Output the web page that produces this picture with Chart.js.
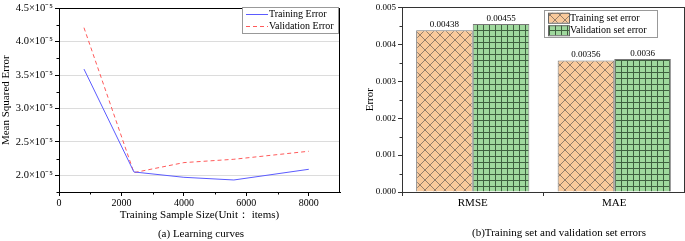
<!DOCTYPE html>
<html>
<head>
<meta charset="utf-8">
<script src="https://cdn.jsdelivr.net/npm/chart.js@4"></script>
<style>
  body { margin: 0; background: #fff; width: 685px; height: 241px; position: relative; overflow: hidden; }
  canvas { position: absolute; top: 0; }
  #lc { left: 0; }
  #bc { left: 345px; }
  .cap { position: absolute; top: 227px; font: 11px "Liberation Serif", serif; color: #000; white-space: nowrap; transform: translateX(-50%); }
</style>
</head>
<body>
<canvas id="lc" width="345" height="241"></canvas>
<canvas id="bc" width="340" height="241"></canvas>
<div class="cap" style="left:201px">(a) Learning curves</div>
<div class="cap" style="left:559px; top:226px">(b)Training set and validation set errors</div>
<script>
// learning curves
const sampleSizes = [800, 2400, 4000, 5600, 8000];
const trainMSE = [3.59e-5, 2.05e-5, 1.97e-5, 1.93e-5, 2.09e-5];
const validMSE = [4.21e-5, 2.04e-5, 2.19e-5, 2.24e-5, 2.36e-5];
const xTicks = [0, 2000, 4000, 6000, 8000];
const yTicks = [2.0e-5, 2.5e-5, 3.0e-5, 3.5e-5, 4.0e-5, 4.5e-5];

// error bars
const metrics = ['RMSE', 'MAE'];
const trainErr = [0.00438, 0.00356];
const validErr = [0.00455, 0.0036];
const errTicks = [0, 0.001, 0.002, 0.003, 0.004, 0.005];

const SERIF = '"Liberation Serif", "Times New Roman", serif';
Chart.defaults.font.family = SERIF;
Chart.defaults.color = '#000';

// draw a frame round the plot plus small minor ticks
const frame = {
  id: 'frame',
  afterDraw(chart, args, opts) {
    const { ctx, chartArea: a } = chart;
    ctx.save();
    ctx.strokeStyle = opts.color || '#000';
    ctx.lineWidth = 1;
    ctx.strokeRect(Math.round(a.left) + 0.5, Math.round(a.top) + 0.5,
      Math.round(a.right - a.left) - 1, Math.round(a.bottom - a.top));
    ctx.beginPath();
    (opts.xMinor || []).forEach(v => {
      const px = Math.round(chart.scales.x.getPixelForValue(v)) + 0.5;
      ctx.moveTo(px, a.bottom); ctx.lineTo(px, a.bottom + 2.5);
    });
    (opts.yMinor || []).forEach(v => {
      const py = Math.round(chart.scales.y.getPixelForValue(v)) + 0.5;
      ctx.moveTo(a.left, py); ctx.lineTo(a.left - 2.5, py);
    });
    ctx.stroke();
    ctx.restore();
  }
};

// legend box drawn inside the plot
const boxLegend = {
  id: 'boxLegend',
  afterDraw(chart, args, opts) {
    const { ctx } = chart;
    ctx.save();
    ctx.fillStyle = '#fff';
    ctx.fillRect(opts.x, opts.y, opts.w, opts.h);
    ctx.strokeStyle = '#999';
    ctx.lineWidth = 1;
    ctx.strokeRect(opts.x + 0.5, opts.y + 0.5, opts.w, opts.h);
    ctx.font = opts.font;
    ctx.textBaseline = 'middle';
    chart.data.datasets.forEach((ds, i) => {
      const cy = opts.y + opts.pad + i * opts.row + opts.row / 2;
      const sx = opts.x + 4;
      if (opts.swatch === 'line') {
        ctx.strokeStyle = ds.borderColor;
        ctx.setLineDash(ds.borderDash || []);
        ctx.beginPath();
        ctx.moveTo(sx, Math.round(cy) + 0.5);
        ctx.lineTo(sx + opts.sw, Math.round(cy) + 0.5);
        ctx.stroke();
        ctx.setLineDash([]);
      } else {
        ctx.fillStyle = ds.backgroundColor;
        ctx.fillRect(sx, cy - 5, opts.sw, 10);
        ctx.strokeStyle = '#666';
        ctx.strokeRect(sx + 0.5, cy - 5 + 0.5, opts.sw, 10);
      }
      ctx.fillStyle = '#000';
      ctx.fillText(ds.label, sx + opts.sw + 1, cy + 0.5);
    });
    ctx.restore();
  }
};

// value labels above bars
const barValues = {
  id: 'barValues',
  afterDatasetsDraw(chart) {
    const { ctx } = chart;
    ctx.save();
    ctx.font = '9px ' + SERIF;
    ctx.fillStyle = '#000';
    ctx.textAlign = 'center';
    ctx.textBaseline = 'bottom';
    chart.data.datasets.forEach((ds, i) => {
      chart.getDatasetMeta(i).data.forEach((bar, j) => {
        ctx.fillText(String(ds.data[j]), bar.x, bar.y - 1);
      });
    });
    ctx.restore();
  }
};

function pattern(kind) {
  const c = document.createElement('canvas');
  const g = c.getContext('2d');
  if (kind === 'cross') {
    c.width = c.height = 10;
    g.fillStyle = '#f9c99b';
    g.fillRect(0, 0, 10, 10);
    g.strokeStyle = '#7a6a5c';
    g.lineWidth = 0.8;
    g.beginPath();
    g.moveTo(0, 0); g.lineTo(10, 10);
    g.moveTo(0, 10); g.lineTo(10, 0);
    g.stroke();
  } else {
    c.width = c.height = 6;
    g.fillStyle = '#9fd89d';
    g.fillRect(0, 0, 6, 6);
    g.fillStyle = '#3f5f3f';
    g.fillRect(0, 0, 6, 1);
    g.fillRect(0, 0, 1, 6);
  }
  return g.createPattern(c, 'repeat');
}

new Chart(document.getElementById('lc'), {
  type: 'line',
  data: {
    datasets: [{
      label: 'Training Error',
      data: sampleSizes.map((x, i) => ({ x, y: trainMSE[i] })),
      borderColor: '#5b5bff',
      borderWidth: 1,
      pointRadius: 0,
      tension: 0
    }, {
      label: 'Validation Error',
      data: sampleSizes.map((x, i) => ({ x, y: validMSE[i] })),
      borderColor: '#ff5a5a',
      borderWidth: 1,
      borderDash: [4, 3],
      pointRadius: 0,
      tension: 0
    }]
  },
  options: {
    responsive: false,
    animation: false,
    devicePixelRatio: 1,
    layout: { padding: { top: 5, right: 5, bottom: 19, left: 0 } },
    plugins: {
      legend: { display: false },
      tooltip: { enabled: false },
      frame: { xMinor: [1000, 3000, 5000, 7000], yMinor: [1.75e-5, 2.25e-5, 2.75e-5, 3.25e-5, 3.75e-5, 4.25e-5] },
      boxLegend: { x: 242, y: 7, w: 96, h: 26, pad: 1, row: 12, sw: 22, swatch: 'line', font: '10px ' + SERIF }
    },
    scales: {
      x: {
        type: 'linear',
        min: 0, max: 9000,
        afterBuildTicks: s => { s.ticks = xTicks.map(v => ({ value: v })); },
        afterFit: s => { s.height = 30; },
        ticks: { font: { size: 10 }, padding: 1, maxRotation: 0, callback: v => String(v) },
        grid: { drawOnChartArea: false, tickLength: 4, tickColor: '#000' },
        border: { color: '#000' },
        title: { display: true, text: 'Training Sample Size(Unit： items)', font: { size: 11 }, padding: { top: 2, bottom: 0 } }
      },
      y: {
        min: 1.75e-5, max: 4.5e-5,
        afterBuildTicks: s => { s.ticks = yTicks.map(v => ({ value: v })); },
        afterFit: s => { s.width = 59; },
        ticks: {
          font: { size: 10.5 }, padding: 2,
          callback: v => (v * 1e5).toFixed(1) + '×10⁻⁵'
        },
        grid: { color: '#dcdcdc', tickLength: 4, tickColor: '#000' },
        border: { color: '#000' },
        title: { display: true, text: 'Mean Squared Error', font: { size: 11 }, padding: { top: 0, bottom: 0 } }
      }
    }
  },
  plugins: [frame, boxLegend]
});

new Chart(document.getElementById('bc'), {
  type: 'bar',
  data: {
    labels: metrics,
    datasets: [{
      label: 'Training set error',
      data: trainErr,
      backgroundColor: pattern('cross'),
      borderColor: '#777',
      borderWidth: 1
    }, {
      label: 'Validation set error',
      data: validErr,
      backgroundColor: pattern('grid'),
      borderColor: '#777',
      borderWidth: 1
    }]
  },
  options: {
    responsive: false,
    animation: false,
    devicePixelRatio: 1,
    layout: { padding: { top: 5, right: 0, bottom: 13, left: 0 } },
    datasets: { bar: { categoryPercentage: 0.8, barPercentage: 1.0 } },
    plugins: {
      legend: { display: false },
      tooltip: { enabled: false },
      frame: { color: '#333', yMinor: [0.0005, 0.0015, 0.0025, 0.0035, 0.0045] },
      boxLegend: { x: 199, y: 10, w: 113, h: 27, pad: 1.5, row: 12.5, sw: 21, swatch: 'fill', font: '10px ' + SERIF }
    },
    scales: {
      x: {
        afterFit: s => { s.height = 36; },
        ticks: { font: { size: 11 }, padding: 1 },
        grid: { drawOnChartArea: false, tickLength: 4, tickColor: '#333' },
        border: { color: '#333' }
      },
      y: {
        min: 0, max: 0.005,
        afterBuildTicks: s => { s.ticks = errTicks.map(v => ({ value: v })); },
        afterFit: s => { s.width = 57; },
        ticks: { font: { size: 9 }, padding: 2, callback: v => v.toFixed(3) },
        grid: { drawOnChartArea: false, tickLength: 4, tickColor: '#333' },
        border: { color: '#333' },
        title: { display: true, text: 'Error', font: { size: 11 }, padding: { top: 19, bottom: 0 } }
      }
    }
  },
  plugins: [frame, boxLegend, barValues]
});
</script>
</body>
</html>
